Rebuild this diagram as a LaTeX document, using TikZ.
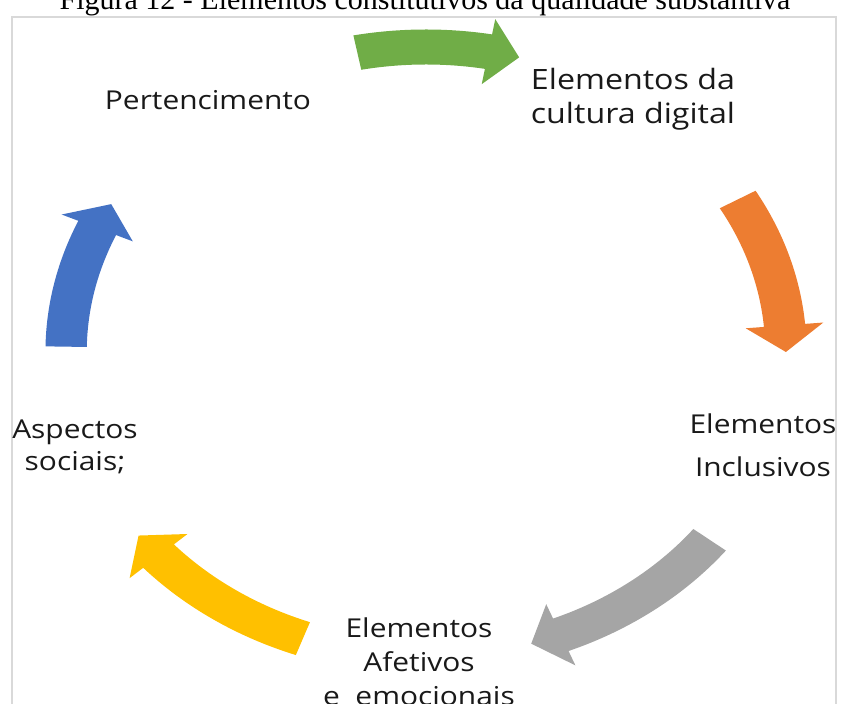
\documentclass[tikz,border=0pt]{standalone}
\usepackage{fontspec}
\setmainfont{Liberation Serif}
\newfontfamily\labelfont{Open Sans}
\usetikzlibrary{positioning}

\definecolor{arrgreen}{HTML}{70AD47}
\definecolor{arrorange}{HTML}{ED7D31}
\definecolor{arrgrey}{HTML}{A5A5A5}
\definecolor{arryellow}{HTML}{FFC000}
\definecolor{arrblue}{HTML}{4472C4}

\begin{document}
\begin{tikzpicture}[x=1pt,y=1pt,
  lbl/.style={font=\labelfont\fontsize{26}{34}\selectfont,text=black!90,
    align=center,inner sep=0pt,xscale=1.15}]
  \useasboundingbox (0,0) rectangle (841,704);
  \node[font=\fontsize{30}{36}\selectfont,anchor=base] (title) at (425,694)
    {Figura 12 - Elementos constitutivos da qualidade substantiva};
  \draw[line width=2pt,black!15] (12,-10) rectangle (836,687);
  % cycle arrows: tail angle / tip angle
  \begin{scope}[shift={(426,352)},xscale=1.18]
    \foreach \ta/\tb/\col in {101/75/arrgreen,30/0/arrorange,-38/-73/arrgrey,
                              -110/-143/arryellow,179/151/arrblue}
      \fill[\col] (\ta:322.5) arc[start angle=\ta,end angle=\tb+5,radius=322.5]
        -- (\tb+5:338) -- (\tb:305) -- (\tb+5:272) -- (\tb+5:287.5)
        arc[start angle=\tb+5,end angle=\ta,radius=287.5] -- cycle;
  \end{scope}
  % labels
  \node[lbl] (pert) at (208,604) {Pertencimento};
  \node[lbl,font=\labelfont\fontsize{28}{34}\selectfont] (cult) at (633,605) {Elementos da\\cultura digital};
  \node[lbl,font=\labelfont\fontsize{26}{43}\selectfont] (incl) at (763,259) {Elementos\\Inclusivos};
  \node[lbl] (afet) at (419,42) {Elementos\\Afetivos\\e\ \ emocionais};
  \node[lbl,font=\labelfont\fontsize{26}{32}\selectfont] (soc) at (75,257) {Aspectos\\sociais;};
\end{tikzpicture}
\end{document}
